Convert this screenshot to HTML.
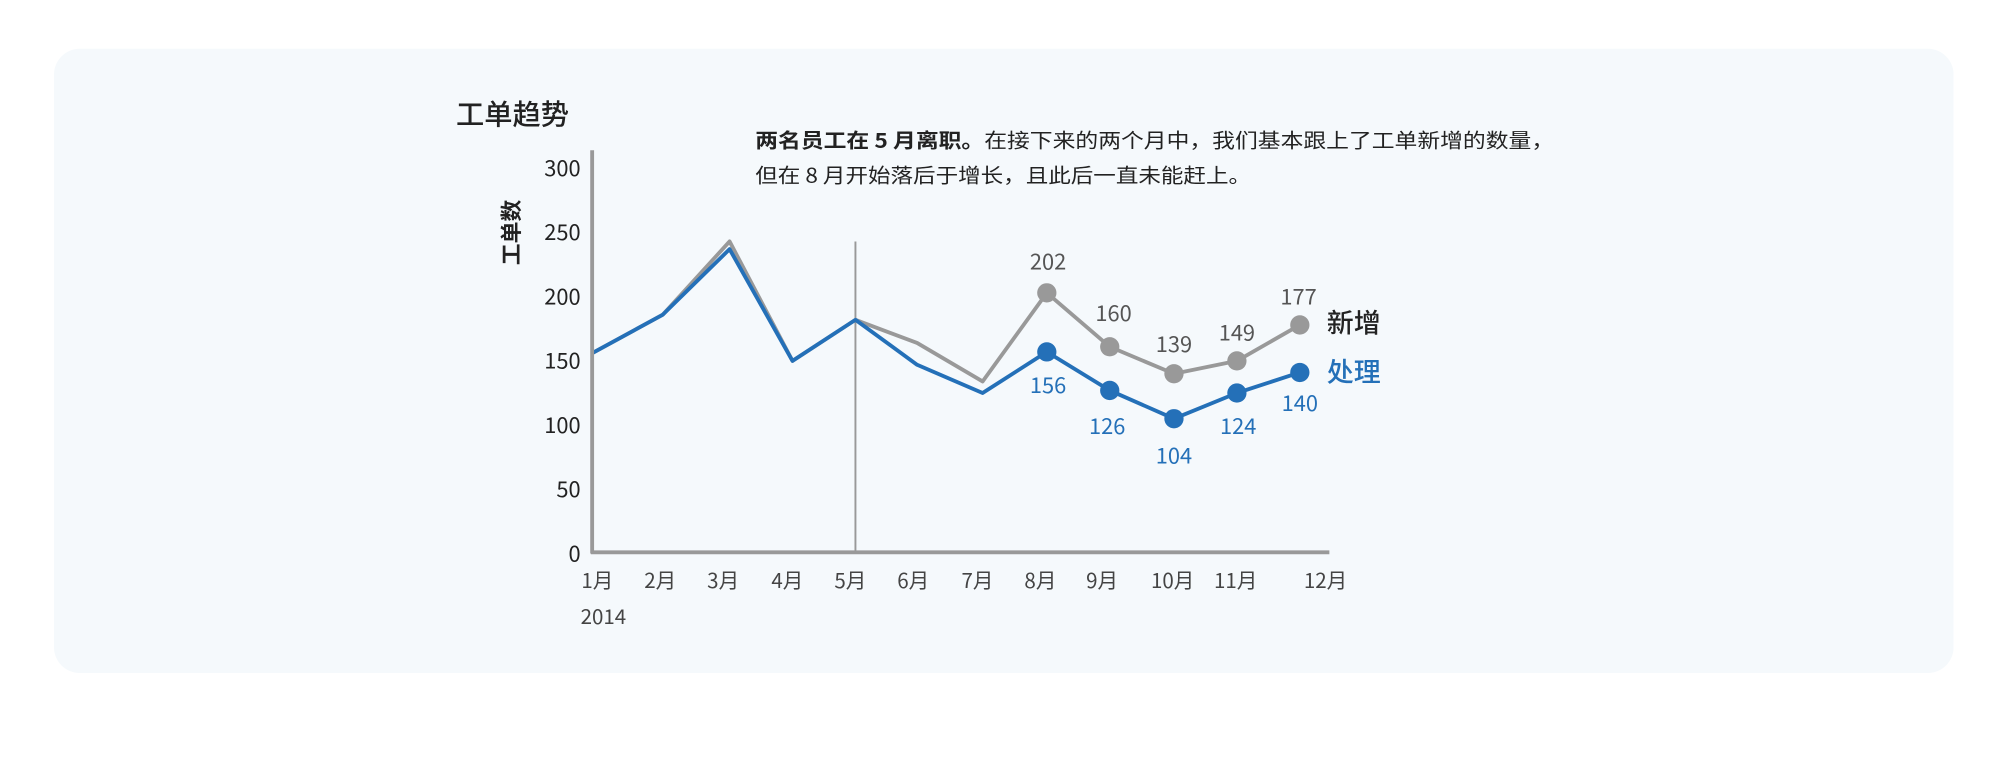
<!DOCTYPE html>
<html><head><meta charset="utf-8"><style>
html,body{margin:0;padding:0;background:#fff;width:2014px;height:757px;overflow:hidden}
svg{display:block}
text{font-family:"Noto Sans CJK SC","Liberation Sans",sans-serif}
</style></head><body>
<svg width="2014" height="757" viewBox="0 0 1568 589.4" xmlns="http://www.w3.org/2000/svg">
<rect x="42" y="38" width="1479" height="486" rx="20" fill="#f5f9fc"/>
<text x="355" y="97" font-size="22" font-weight="500" fill="#222">工单趋势</text>
<text x="588" y="115" font-size="15.5" fill="#222" textLength="622" lengthAdjust="spacingAndGlyphs"><tspan font-weight="bold">两名员工在 5 月离职。</tspan>在接下来的两个月中，我们基本跟上了工单新增的数量，</text>
<text x="588" y="142" font-size="15.5" fill="#222" textLength="386" lengthAdjust="spacingAndGlyphs">但在 8 月开始落后于增长，且此后一直未能赶上。</text>
<text transform="translate(404,181) rotate(-90)" text-anchor="middle" font-size="17" font-weight="bold" fill="#222">工单数</text>
<g font-size="17" fill="#222" text-anchor="end">
<text x="452" y="437">0</text><text x="452" y="387">50</text><text x="452" y="337">100</text>
<text x="452" y="287">150</text><text x="452" y="237">200</text><text x="452" y="187">250</text><text x="452" y="137">300</text>
</g>
<line x1="666" y1="188" x2="666" y2="430" stroke="#999" stroke-width="1.5"/>
<polyline fill="none" stroke="#999" stroke-width="3" stroke-linejoin="round" points="461,275 516,245 568,188 617,281 666,249 714,267 765,297 815,228 864,270 914,291 963,281 1012,253"/>
<polyline fill="none" stroke="#2470b8" stroke-width="3" stroke-linejoin="round" points="461,275 516,245 568,194 617,281 666,249 714,284 765,306 815,274 864,304 914,326 963,306 1012,290"/>
<g fill="#999"><circle cx="815" cy="228" r="7.5"/><circle cx="864" cy="270" r="7.5"/><circle cx="914" cy="291" r="7.5"/><circle cx="963" cy="281" r="7.5"/><circle cx="1012" cy="253" r="7.5"/></g>
<g fill="#2470b8"><circle cx="815" cy="274" r="7.5"/><circle cx="864" cy="304" r="7.5"/><circle cx="914" cy="326" r="7.5"/><circle cx="963" cy="306" r="7.5"/><circle cx="1012" cy="290" r="7.5"/></g>
<g font-size="17" fill="#555" text-anchor="middle">
<text x="816" y="210">202</text><text x="867" y="250">160</text><text x="914" y="274">139</text><text x="963" y="265">149</text><text x="1011" y="237">177</text>
</g>
<g font-size="17" fill="#2470b8" text-anchor="middle">
<text x="816" y="306">156</text><text x="862" y="338">126</text><text x="914" y="361">104</text><text x="964" y="338">124</text><text x="1012" y="320">140</text>
</g>
<text x="1033" y="259" font-size="21" font-weight="500" fill="#222">新增</text>
<text x="1033" y="297" font-size="21" font-weight="500" fill="#2470b8">处理</text>
<line x1="461" y1="117" x2="461" y2="431" stroke="#999" stroke-width="3"/>
<line x1="460" y1="430" x2="1035" y2="430" stroke="#999" stroke-width="3"/>
<g font-size="16" fill="#444" text-anchor="middle">
<text x="465" y="458">1月</text><text x="514" y="458">2月</text><text x="563" y="458">3月</text><text x="613" y="458">4月</text>
<text x="662" y="458">5月</text><text x="711" y="458">6月</text><text x="761" y="458">7月</text><text x="810" y="458">8月</text>
<text x="858" y="458">9月</text><text x="913" y="458">10月</text><text x="962" y="458">11月</text><text x="1032" y="458">12月</text>
</g>
<text x="452" y="486" font-size="16" fill="#444">2014</text>
</svg>
</body></html>
